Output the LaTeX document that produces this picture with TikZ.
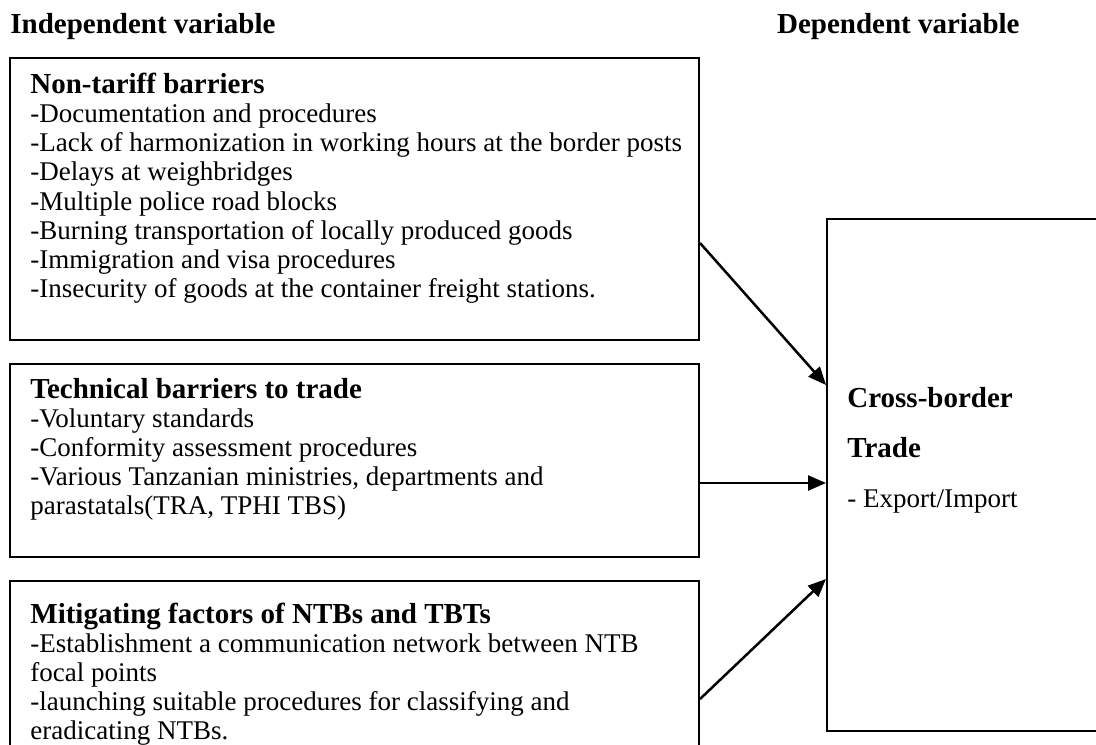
\documentclass[tikz,border=0pt]{standalone}
\usepackage{fontspec}
\setmainfont{Liberation Serif}
\usetikzlibrary{arrows.meta,calc}
\tikzset{
  frame/.style={draw=black, line width=1pt, rectangle, inner sep=0pt, anchor=north west},
  body/.style={anchor=base west, inner sep=0pt, font=\fontsize{13.5}{16}\selectfont},
  head/.style={anchor=base west, inner sep=0pt, font=\fontsize{14.5}{17}\selectfont\bfseries},
  link/.style={line width=1.25pt, -{Triangle[length=9pt,width=7.5pt]}},
}
\begin{document}
\begin{tikzpicture}[x=0.5pt, y=-0.5pt]
\useasboundingbox (0,0) rectangle (1096,744);
\clip (0,0) rectangle (1096,744);
% headings
\node[head] (indep) at (10,33) {Independent variable};
\node[head, anchor=base east] (dep) at (1020,33) {Dependent variable};
% boxes
\node[frame, minimum width=344.5pt, minimum height=141pt] (b1) at (9,57) {};
\node[frame, minimum width=344.5pt, minimum height=96.5pt] (b2) at (9,363) {};
\node[frame, minimum width=344.5pt, minimum height=100pt] (b3) at (9,580) {};
\node[frame, minimum width=160pt, minimum height=256pt] (dv) at (826,218) {};
% box 1 text
\node[head] (t1a) at (30,93) {Non-tariff barriers};
\node[body] (t1b) at (30,122.5) {-Documentation and procedures};
\node[body] (t1c) at (30,151.7) {-Lack of harmonization in working hours at the border posts};
\node[body] (t1d) at (30,180.9) {-Delays at weighbridges};
\node[body] (t1e) at (30,210.1) {-Multiple police road blocks};
\node[body] (t1f) at (30,239.3) {-Burning transportation of locally produced goods};
\node[body] (t1g) at (30,268.5) {-Immigration and visa procedures};
\node[body] (t1h) at (30,297.7) {-Insecurity of goods at the container freight stations.};
% box 2 text
\node[head] (t2a) at (30,398) {Technical barriers to trade};
\node[body] (t2b) at (30,427.2) {-Voluntary standards};
\node[body] (t2c) at (30,456.4) {-Conformity assessment procedures};
\node[body] (t2d) at (30,485.6) {-Various Tanzanian ministries, departments and};
\node[body] (t2e) at (30,514.8) {parastatals(TRA, TPHI TBS)};
% box 3 text
\node[head] (t3a) at (30,623) {Mitigating factors of NTBs and TBTs};
\node[body] (t3b) at (30,652.2) {-Establishment a communication network between NTB};
\node[body] (t3c) at (30,681.4) {focal points};
\node[body] (t3d) at (30,710.6) {-launching suitable procedures for classifying and};
\node[body] (t3e) at (30,739.8) {eradicating NTBs.};
% dependent variable text
\node[head] (d1) at (847,407) {Cross-border};
\node[head] (d2) at (847,457) {Trade};
\node[body] (d3) at (847,507) {- Export/Import};
% connectors
\draw[link] ($(b1.north east)+(0,186)$) -- ($(dv.north west)+(0,167)$);
\draw[link] ($(b2.north east)+(0,120)$) -- ($(dv.north west)+(0,265)$);
\draw[link] ($(b3.north east)+(0,119)$) -- ($(dv.north west)+(0,361)$);
\end{tikzpicture}
\end{document}
